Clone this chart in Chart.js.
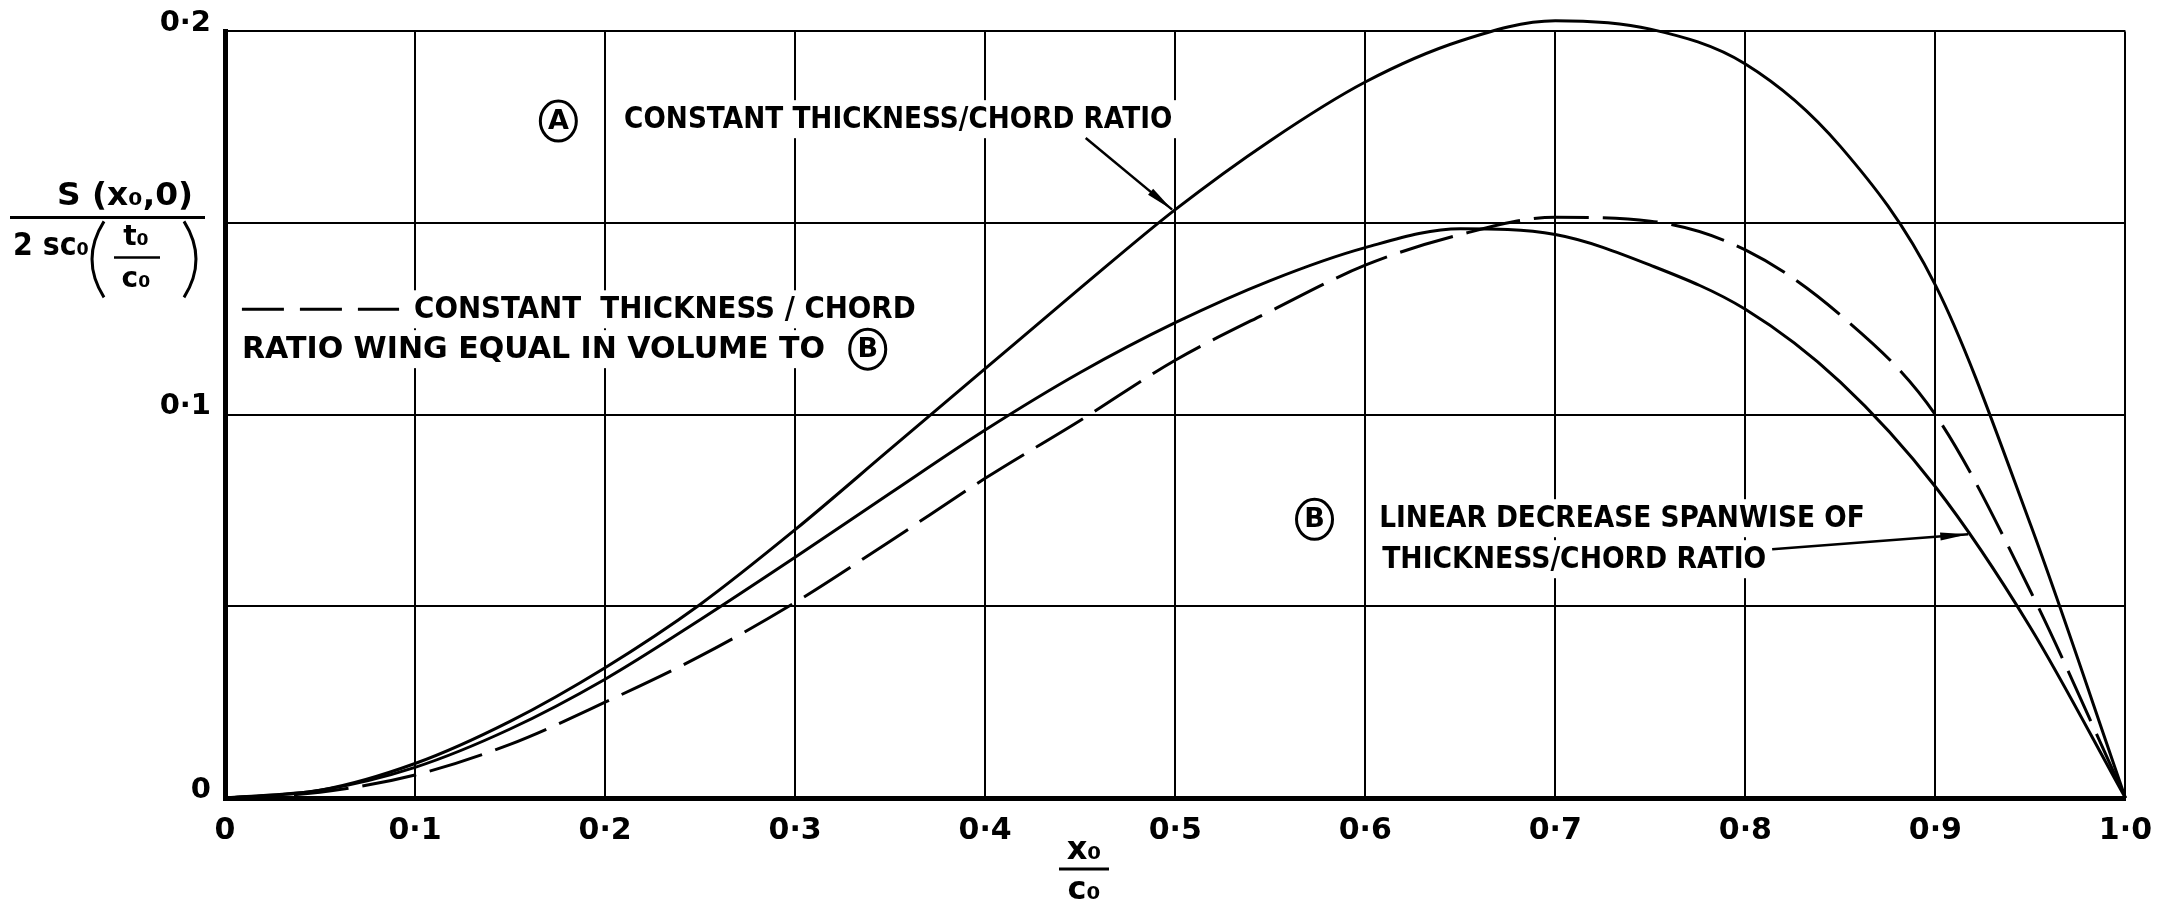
<!DOCTYPE html>
<html>
<head>
<meta charset="utf-8">
<script src="https://cdn.jsdelivr.net/npm/chart.js@4.4.0/dist/chart.umd.min.js"></script>
<style>
  html, body { margin: 0; padding: 0; background: #fff; }
  #wrap { width: 2167px; height: 910px; }
</style>
</head>
<body>
<div id="wrap"><canvas id="chart" width="2167" height="910"></canvas></div>
<script>
// x0/c0 stations (every 0.05 along the chord)
const stations = [0, 0.05, 0.1, 0.15, 0.2, 0.25, 0.3, 0.35, 0.4, 0.45, 0.5, 0.55, 0.6, 0.65, 0.7, 0.75, 0.8, 0.85, 0.9, 0.95, 1.0];

// (A) constant thickness/chord ratio
const curveA = [0, 0.002, 0.009, 0.020, 0.034, 0.0505, 0.070, 0.091, 0.112, 0.133, 0.1535, 0.1715, 0.1868, 0.1975, 0.2028, 0.2006, 0.1915, 0.170, 0.1338, 0.0714, 0];

// (B) linear decrease spanwise of thickness/chord ratio
const curveB = [0, 0.002, 0.008, 0.018, 0.031, 0.0465, 0.0628, 0.0795, 0.096, 0.111, 0.124, 0.135, 0.1436, 0.1485, 0.147, 0.139, 0.1275, 0.1085, 0.0812, 0.0445, 0];

// dashed: constant t/c wing equal in volume to (B)
const curveEq = [0, 0.0015, 0.006, 0.014, 0.025, 0.037, 0.051, 0.067, 0.0834, 0.0985, 0.1142, 0.127, 0.139, 0.147, 0.1515, 0.1505, 0.143, 0.126, 0.100, 0.054, 0];

const xTicks = ['0', '0·1', '0·2', '0·3', '0·4', '0·5', '0·6', '0·7', '0·8', '0·9', '1·0'];
const yTickLabels = { 0: '0', 0.1: '0·1', 0.2: '0·2' };

const FONT = '"DejaVu Sans", sans-serif';

function pts(ys) {
  return stations.map((x, i) => ({ x, y: ys[i] }));
}

function fitText(ctx, str, x, y, w) {
  const natural = ctx.measureText(str).width;
  ctx.save();
  ctx.textAlign = 'left';
  ctx.translate(x, y);
  ctx.scale(w / natural, 1);
  ctx.fillText(str, 0, 0);
  ctx.restore();
}

function circled(ctx, letter, cx, cy) {
  ctx.save();
  ctx.fillStyle = '#fff';
  ctx.beginPath(); ctx.arc(cx, cy, 25, 0, Math.PI * 2); ctx.fill();
  ctx.fillStyle = '#000';
  ctx.lineWidth = 3;
  ctx.beginPath(); ctx.ellipse(cx, cy, 18, 20, 0, 0, Math.PI * 2); ctx.stroke();
  ctx.font = 'bold 27px ' + FONT;
  ctx.textAlign = 'center';
  ctx.textBaseline = 'middle';
  ctx.fillText(letter, cx, cy + 1);
  ctx.restore();
}

function leader(ctx, x1, y1, x2, y2) {
  ctx.save();
  ctx.lineWidth = 2.5;
  ctx.beginPath(); ctx.moveTo(x1, y1); ctx.lineTo(x2, y2); ctx.stroke();
  const a = Math.atan2(y2 - y1, x2 - x1);
  const len = 28, half = 4;
  ctx.beginPath();
  ctx.moveTo(x2, y2);
  ctx.lineTo(x2 - len * Math.cos(a) + half * Math.sin(a), y2 - len * Math.sin(a) - half * Math.cos(a));
  ctx.lineTo(x2 - len * Math.cos(a) - half * Math.sin(a), y2 - len * Math.sin(a) + half * Math.cos(a));
  ctx.closePath();
  ctx.fill();
  ctx.restore();
}

// labels, circled letters and the fraction titles
const notesPlugin = {
  id: 'notes',
  beforeDatasetsDraw(chart) {
    const { ctx, scales: { x, y } } = chart;
    const lines = [
      { t: 'CONSTANT THICKNESS/CHORD RATIO', x: 0.21, y: 0.1771, w: 0.2885 },
      { t: 'CONSTANT  THICKNESS / CHORD', x: 0.0995, y: 0.1275, w: 0.2639 },
      { t: 'RATIO WING EQUAL IN VOLUME TO', x: 0.0089, y: 0.1171, w: 0.3068 },
      { t: 'LINEAR DECREASE SPANWISE OF', x: 0.6073, y: 0.073, w: 0.2555 },
      { t: 'THICKNESS/CHORD RATIO', x: 0.6089, y: 0.0623, w: 0.2021 }
    ];
    ctx.save();
    ctx.font = 'bold 31px ' + FONT;
    ctx.textBaseline = 'middle';
    lines.forEach(l => {
      const px = x.getPixelForValue(l.x), py = y.getPixelForValue(l.y);
      const pw = x.getPixelForValue(l.x + l.w) - px;
      ctx.fillStyle = '#fff';
      ctx.fillRect(px - 10, py - 19, pw + 20, 38);
      ctx.fillStyle = '#000';
      fitText(ctx, l.t, px, py + 1, pw);
    });

    // dashed key
    ctx.fillStyle = '#fff';
    ctx.fillRect(x.getPixelForValue(0.0089) - 6, y.getPixelForValue(0.1275) - 10, x.getPixelForValue(0.0916) - x.getPixelForValue(0.0089) + 12, 20);
    ctx.strokeStyle = '#000';
    ctx.lineWidth = 3;
    ctx.setLineDash([42, 16]);
    ctx.beginPath();
    ctx.moveTo(x.getPixelForValue(0.0089), y.getPixelForValue(0.1275));
    ctx.lineTo(x.getPixelForValue(0.0916), y.getPixelForValue(0.1275));
    ctx.stroke();
    ctx.setLineDash([]);
    ctx.restore();

    circled(ctx, 'A', x.getPixelForValue(0.1754), y.getPixelForValue(0.1766));
    circled(ctx, 'B', x.getPixelForValue(0.3382), y.getPixelForValue(0.1171));
    circled(ctx, 'B', x.getPixelForValue(0.5733), y.getPixelForValue(0.0727));
  },
  afterDatasetsDraw(chart) {
    const { ctx, chartArea, scales: { x, y } } = chart;
    ctx.save();
    ctx.fillStyle = '#000';
    ctx.strokeStyle = '#000';
    leader(ctx, x.getPixelForValue(0.4529), y.getPixelForValue(0.1722), x.getPixelForValue(0.4984), y.getPixelForValue(0.1535));
    leader(ctx, x.getPixelForValue(0.8141), y.getPixelForValue(0.0649), x.getPixelForValue(0.9173), y.getPixelForValue(0.0688));

    // x axis title  x0 / c0
    const cx = x.getPixelForValue(0.452);
    const b = chartArea.bottom;
    ctx.font = 'bold 32px ' + FONT;
    ctx.textAlign = 'center';
    ctx.textBaseline = 'middle';
    ctx.fillText('x₀', cx, b + 53);
    ctx.lineWidth = 3;
    ctx.beginPath(); ctx.moveTo(cx - 25, b + 71); ctx.lineTo(cx + 25, b + 71); ctx.stroke();
    ctx.fillText('c₀', cx, b + 93);

    // y axis title  S(x0,0) / 2sc0(t0/c0)
    const top = chartArea.top;
    fitText(ctx, 'S (x₀,0)', 57, top + 165, 136);
    ctx.beginPath(); ctx.moveTo(10, top + 186); ctx.lineTo(205, top + 186); ctx.stroke();
    fitText(ctx, '2 sc₀', 13, top + 215, 76);
    ctx.lineWidth = 3;
    ctx.beginPath(); ctx.moveTo(104, top + 190); ctx.quadraticCurveTo(80, top + 228, 104, top + 266); ctx.stroke();
    ctx.beginPath(); ctx.moveTo(184, top + 190); ctx.quadraticCurveTo(208, top + 228, 184, top + 266); ctx.stroke();
    ctx.font = 'bold 28px ' + FONT;
    ctx.textAlign = 'center';
    ctx.fillText('t₀', 136, top + 206);
    ctx.lineWidth = 2.5;
    ctx.beginPath(); ctx.moveTo(114, top + 226); ctx.lineTo(160, top + 226); ctx.stroke();
    ctx.fillText('c₀', 136, top + 248);
    ctx.restore();
  }
};

const solid = { borderColor: '#000', borderWidth: 3, pointRadius: 0, fill: false, cubicInterpolationMode: 'monotone', clip: false };

new Chart(document.getElementById('chart'), {
  type: 'line',
  data: {
    datasets: [
      Object.assign({ label: 'A', data: pts(curveA) }, solid),
      Object.assign({ label: 'B', data: pts(curveB) }, solid),
      Object.assign({ label: 'equal volume', data: pts(curveEq), borderDash: [55, 14] }, solid)
    ]
  },
  options: {
    responsive: false,
    animation: false,
    layout: { padding: { left: 0, right: 32, top: 28, bottom: 0 } },
    plugins: { legend: { display: false }, tooltip: { enabled: false } },
    scales: {
      x: {
        type: 'linear', min: 0, max: 1,
        afterFit: s => { s.height = 112; },
        border: { display: true, color: '#000', width: 5 },
        grid: { color: '#000', lineWidth: 2, drawTicks: false },
        ticks: {
          stepSize: 0.1, padding: 15, color: '#000',
          font: { family: FONT, size: 30, weight: 'bold' },
          callback: (v) => xTicks[Math.round(v * 10)]
        }
      },
      y: {
        type: 'linear', min: 0, max: 0.2,
        afterFit: s => { s.width = 225; },
        border: { display: true, color: '#000', width: 5 },
        grid: { color: '#000', lineWidth: 2, drawTicks: false },
        ticks: {
          stepSize: 0.05, padding: 14, color: '#000', labelOffset: -8,
          font: { family: FONT, size: 29, weight: 'bold' },
          callback: (v) => yTickLabels[Math.round(v * 100) / 100] || ''
        }
      }
    }
  },
  plugins: [notesPlugin]
});
</script>
</body>
</html>
